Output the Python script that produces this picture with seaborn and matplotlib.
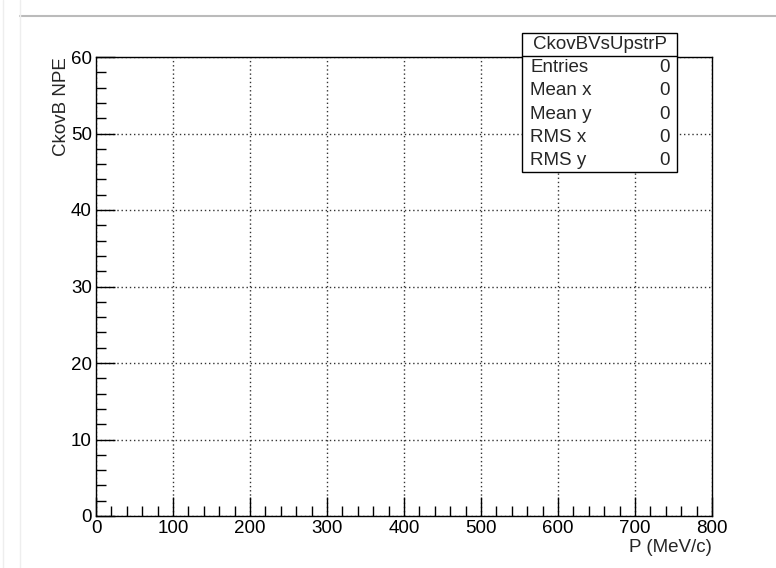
import matplotlib
matplotlib.use("Agg")
import matplotlib.pyplot as plt
from matplotlib.ticker import MultipleLocator
from matplotlib.lines import Line2D
from matplotlib.patches import Rectangle
import seaborn as sns
import pandas as pd

# ---- data ----
hist_name = "CkovBVsUpstrP"
x_label = "P (MeV/c)"
y_label = "CkovB NPE"
x_range = [0, 800]
y_range = [0, 60]
x_major = 100
x_minor = 20
y_major = 10
y_minor = 2
stat_names = ["Entries", "Mean x", "Mean y", "RMS x", "RMS y"]
stat_values = ["0", "0", "0", "0", "0"]
entries_x = []
entries_y = []

sns.set_theme(style="white")
plt.rcParams['font.family'] = ['Liberation Sans', 'DejaVu Sans']

W, H = 776, 568
fig = plt.figure(figsize=(W / 100, H / 100), dpi=100)
L, R, T, B = 96, 712, 57, 516
ax = fig.add_axes([L / W, (H - B) / H, (R - L) / W, (B - T) / H])

df = pd.DataFrame({"x": entries_x, "y": entries_y}, dtype=float)
sns.scatterplot(data=df, x="x", y="y", ax=ax)

ax.set_xlim(*x_range)
ax.set_ylim(*y_range)
ax.xaxis.set_major_locator(MultipleLocator(x_major))
ax.xaxis.set_minor_locator(MultipleLocator(x_minor))
ax.yaxis.set_major_locator(MultipleLocator(y_major))
ax.yaxis.set_minor_locator(MultipleLocator(y_minor))
ax.tick_params(axis="both", which="major", direction="in", length=14, width=1.0,
               color="black", labelsize=13.5, labelcolor="black", pad=3,
               bottom=True, left=True, top=False, right=False)
ax.tick_params(axis="both", which="minor", direction="in", length=7, width=1.0,
               color="black", bottom=True, left=True, top=False, right=False)
ax.grid(True, which="major", linestyle=(0, (1, 2)), color="#333333", linewidth=1.0)
for s in ax.spines.values():
    s.set_color("black")
    s.set_linewidth(1.0)
ax.set_xlabel("")
ax.set_ylabel("")
fig.text(R / W, 1 - 548 / H, x_label, ha="right", va="center", fontsize=13.5)
fig.text(62 / W, 1 - T / H, y_label, ha="center", va="top", rotation=90, fontsize=13.5)

# stats box
bx0, bx1, by0, by1, bt = 522, 677, 33, 172, 56
fig.patches.append(Rectangle((bx0 / W, 1 - by1 / H), (bx1 - bx0) / W, (by1 - by0) / H,
                             transform=fig.transFigure, facecolor="white",
                             edgecolor="black", linewidth=1.0, zorder=5))
fig.lines.append(Line2D([bx0 / W, bx1 / W], [1 - bt / H, 1 - bt / H],
                        transform=fig.transFigure, color="black", linewidth=1.0, zorder=6))
fig.text((bx0 + bx1) / 2 / W, 1 - (by0 + bt) / 2 / H, hist_name, ha="center",
         va="center", fontsize=13.5, zorder=7)
row_h = (by1 - bt) / len(stat_names)
for i, (n, v) in enumerate(zip(stat_names, stat_values)):
    yc = 1 - (bt + row_h * (i + 0.5)) / H
    fig.text((bx0 + 8) / W, yc, n, ha="left", va="center", fontsize=13.5, zorder=7)
    fig.text((bx1 - 7) / W, yc, v, ha="right", va="center", fontsize=13.5, zorder=7)

# screenshot frame lines
fig.lines.append(Line2D([20 / W, 1], [1 - 16 / H, 1 - 16 / H], transform=fig.transFigure,
                        color="#bbbbbb", linewidth=1.5))
for xv in (3, 20):
    fig.lines.append(Line2D([xv / W, xv / W], [0, 1], transform=fig.transFigure,
                            color="#eeeeee", linewidth=1.0))

fig.savefig("out.png", dpi=100)
